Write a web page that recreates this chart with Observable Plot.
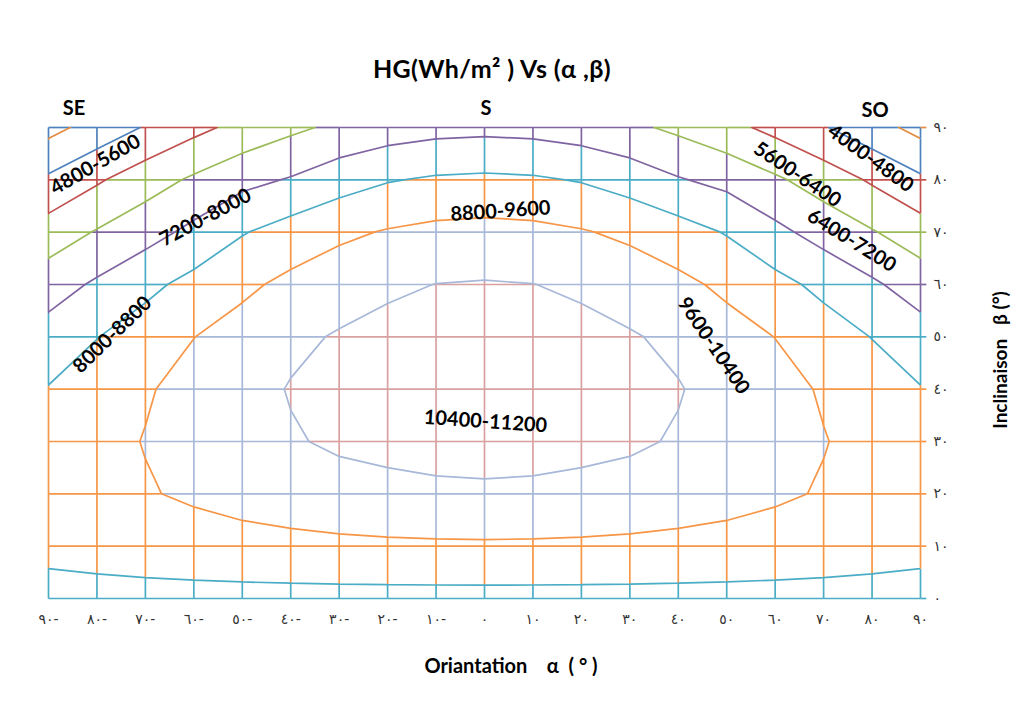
<!DOCTYPE html>
<html>
<head>
<meta charset="utf-8">
<script src="https://cdn.jsdelivr.net/npm/d3@7"></script>
<script src="https://cdn.jsdelivr.net/npm/@observablehq/plot@0.6"></script>
<style>
  body { margin: 0; background: #fff; }
  #chart { position: absolute; left: 0; top: 0; }
</style>
</head>
<body>
<div id="chart"></div>
<script>
// ---- data ----
const alphas = [-90, -80, -70, -60, -50, -40, -30, -20, -10, 0, 10, 20, 30, 40, 50, 60, 70, 80, 90];
const betas = [0, 10, 20, 30, 40, 50, 60, 70, 80, 90];

// HG (Wh/m²) for each inclination row (β), across orientations α = -90 … 90
const hg_b0  = [8560, 8560, 8560, 8560, 8560, 8560, 8560, 8560, 8560, 8560, 8560, 8560, 8560, 8560, 8560, 8560, 8560, 8560, 8560];
const hg_b10 = [8980, 9070, 9160, 9240, 9320, 9380, 9430, 9470, 9490, 9500, 9490, 9470, 9430, 9380, 9320, 9240, 9160, 9070, 8980];
const hg_b20 = [9150, 9350, 9540, 9720, 9890, 10030, 10150, 10230, 10280, 10300, 10280, 10230, 10150, 10030, 9890, 9720, 9540, 9350, 9150];
const hg_b30 = [9100, 9370, 9630, 9890, 10130, 10340, 10500, 10570, 10630, 10650, 10630, 10570, 10500, 10340, 10130, 9890, 9630, 9370, 9100];
const hg_b40 = [8840, 9190, 9530, 9850, 10140, 10440, 10600, 10740, 10820, 10850, 10820, 10740, 10600, 10440, 10140, 9850, 9530, 9190, 8840];
const hg_b50 = [8330, 8780, 9170, 9590, 9900, 10250, 10460, 10610, 10710, 10750, 10710, 10610, 10460, 10250, 9900, 9590, 9170, 8780, 8330];
const hg_b60 = [7630, 8120, 8600, 9040, 9440, 9790, 10070, 10280, 10410, 10450, 10410, 10280, 10070, 9790, 9440, 9040, 8600, 8120, 7630];
const hg_b70 = [6770, 7260, 7700, 8200, 8750, 9130, 9440, 9660, 9800, 9850, 9800, 9660, 9440, 9130, 8750, 8200, 7700, 7260, 6770];
const hg_b80 = [5740, 6300, 6840, 7320, 7780, 8060, 8460, 8750, 8900, 8950, 8900, 8750, 8460, 8060, 7780, 7320, 6840, 6300, 5740];
const hg_b90 = [4550, 5110, 5660, 6180, 6640, 7040, 7360, 7600, 7750, 7800, 7750, 7600, 7360, 7040, 6640, 6180, 5660, 5110, 4550];

// contour levels and bands (band identified by its upper bound)
const thresholds = [4800, 5600, 6400, 7200, 8000, 8800, 9600, 10400];
const bandTops   = [4800, 5600, 6400, 7200, 8000, 8800, 9600, 10400, 11200];
const bandColors = ["#E28D42", "#4F81BD", "#C0504D", "#9BBB59", "#8064A2", "#4BACC6", "#F79646", "#A8B8D8", "#D9A0A0"];

// tick labels (Arabic-Indic digits as in the original)
const xTickLabels = ["٩٠-", "٨٠-", "٧٠-", "٦٠-", "٥٠-", "٤٠-", "٣٠-", "٢٠-", "١٠-", "٠", "١٠", "٢٠", "٣٠", "٤٠", "٥٠", "٦٠", "٧٠", "٨٠", "٩٠"];
const yTickLabels = ["٠", "١٠", "٢٠", "٣٠", "٤٠", "٥٠", "٦٠", "٧٠", "٨٠", "٩٠"];

// band labels written on the chart
const labelTexts  = ["4800-5600", "7200-8000", "8000-8800", "8800-9600", "10400-11200", "9600-10400", "6400-7200", "5600-6400", "4000-4800"];
const labelAlpha  = [-80.3, -57.6, -76.8, 3.3, 0.2, 47.3, 75.8, 64.6, 79.7];
const labelBeta   = [82.9, 72.8, 50.4, 74.0, 33.8, 48.3, 68.4, 81.0, 84.1];
const labelAngle  = [-30, -28, -44, -4, 4, 56, 32, 34, 36];

// ---- derived tables ----
const rows = [hg_b0, hg_b10, hg_b20, hg_b30, hg_b40, hg_b50, hg_b60, hg_b70, hg_b80, hg_b90];
const hgGrid = rows.flat();
const bandOf = v => Math.min(11200, Math.max(4800, Math.ceil(v / 800) * 800));
// the wireframe of the lowest band is drawn in the next band's colour, as in the original
const gridBandOf = v => Math.max(5600, bandOf(v));

// grid (wireframe) segments, split where they cross a contour level, coloured by band
const gridSegs = [];
function addSeg(a0, b0, a1, b1, v0, v1) {
  const cuts = [0, 1];
  for (const t of thresholds) {
    const f = (t - v0) / (v1 - v0);
    if (f > 0 && f < 1) cuts.push(f);
  }
  cuts.sort((p, q) => p - q);
  for (let i = 0; i < cuts.length - 1; i++) {
    const f0 = cuts[i], f1 = cuts[i + 1];
    if (f1 - f0 < 1e-9) continue;
    const vm = v0 + (v1 - v0) * (f0 + f1) / 2;
    gridSegs.push({
      x1: a0 + (a1 - a0) * f0, y1: b0 + (b1 - b0) * f0,
      x2: a0 + (a1 - a0) * f1, y2: b0 + (b1 - b0) * f1,
      band: gridBandOf(vm)
    });
  }
}
for (let j = 0; j < betas.length; j++)
  for (let i = 0; i < alphas.length - 1; i++)
    addSeg(alphas[i], betas[j], alphas[i + 1], betas[j], rows[j][i], rows[j][i + 1]);
for (let i = 0; i < alphas.length; i++)
  for (let j = 0; j < betas.length - 1; j++)
    addSeg(alphas[i], betas[j], alphas[i], betas[j + 1], rows[j][i], rows[j + 1][i]);

const stubs = betas.map((b, j) => ({b, band: bandOf(rows[j][alphas.length - 1])}));
const contourLabels = labelTexts.map((t, i) => ({t, a: labelAlpha[i], b: labelBeta[i], r: labelAngle[i]}));

const chart = Plot.plot({
  width: 1026,
  height: 722,
  marginLeft: 48,
  marginRight: 106,
  marginTop: 127,
  marginBottom: 124,
  style: {background: "#fff", fontFamily: "Lato, sans-serif", overflow: "visible"},
  x: {domain: [-90, 90]},
  y: {domain: [0, 90]},
  color: {type: "ordinal", domain: bandTops, range: bandColors},
  marks: [
    Plot.link(gridSegs, {x1: "x1", y1: "y1", x2: "x2", y2: "y2", stroke: "band", strokeWidth: 1.7}),
    Plot.link(stubs, {x1: 90, x2: 91.2, y1: "b", y2: "b", stroke: "band", strokeWidth: 1.7}),
    Plot.contour(hgGrid, {
      width: 19, height: 10, x1: -95, x2: 95, y1: -5, y2: 95,
      thresholds, stroke: Plot.identity, fill: "none", strokeWidth: 1.7, clip: true
    }),
    Plot.axisX({
      ticks: alphas, tickFormat: d => xTickLabels[alphas.indexOf(d)],
      tickSize: 0, tickPadding: 16, fontSize: 14, fontFamily: "DejaVu Sans", color: "#333", label: null
    }),
    Plot.axisY({
      anchor: "right", ticks: betas, tickFormat: d => yTickLabels[betas.indexOf(d)],
      tickSize: 0, tickPadding: 13, fontSize: 14, fontFamily: "DejaVu Sans", color: "#333", label: null
    }),
    Plot.text(contourLabels, {
      x: "a", y: "b", text: "t", rotate: "r",
      fontSize: 20, fontWeight: "bold", fill: "#000", fontFamily: "Lato, sans-serif"
    })
  ]
});

document.getElementById("chart").appendChild(chart);

// titles and orientation markers
const svg = d3.select(chart);
function addText(txt, x, y, size, rotate, spacing) {
  const t = svg.append("text")
    .attr("x", x).attr("y", y)
    .attr("text-anchor", "middle")
    .attr("font-family", "Lato, sans-serif")
    .attr("font-weight", "bold")
    .attr("font-size", size)
    .attr("fill", "#000")
    .text(txt);
  if (spacing) t.attr("letter-spacing", spacing);
  if (rotate) t.attr("transform", `rotate(${rotate},${x},${y})`);
  return t;
}
addText("HG(Wh/m² ) Vs (α ,β)", 492, 78, 25, 0, 0.4);
addText("SE", 74, 115, 20);
addText("S", 486, 115, 20);
addText("SO", 875, 117, 20);
addText("Oriantation\u00a0\u00a0\u00a0\u00a0α\u00a0\u00a0(\u00a0°\u00a0)", 511, 673, 20);
addText("Inclinaison\u00a0\u00a0\u00a0β\u00a0(°)", 1007, 360, 19, -90);
</script>
</body>
</html>
